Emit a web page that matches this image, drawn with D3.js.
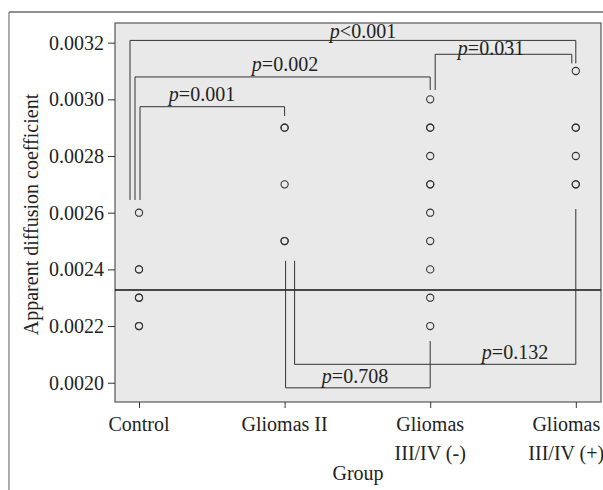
<!DOCTYPE html>
<html>
<head>
<meta charset="utf-8">
<script src="https://cdn.jsdelivr.net/npm/d3@7"></script>
<style>
  body { margin: 0; background: #fff; }
  svg { display: block; }
  text { font-family: "Liberation Serif", "Times New Roman", serif; fill: #222; }
</style>
</head>
<body>
<div id="chart"></div>
<script>
// groups along the x axis
const groups = ["Control", "Gliomas II", "Gliomas III/IV (-)", "Gliomas III/IV (+)"];
const groupLines = [["Control"], ["Gliomas II"], ["Gliomas", "III/IV (-)"], ["Gliomas", "III/IV (+)"]];

// ADC values per group (repeated values = overlapping points)
const control = [0.0026, 0.0024, 0.0024, 0.0023, 0.0023, 0.0022, 0.0022];
const gliomasII = [0.0029, 0.0029, 0.0027, 0.0025, 0.0025];
const gliomasNeg = [0.0030, 0.0029, 0.0029, 0.0028, 0.0027, 0.0027, 0.0026, 0.0025, 0.0024, 0.0023, 0.0022];
const gliomasPos = [0.0031, 0.0029, 0.0029, 0.0028, 0.0027, 0.0027];

const yTicks = [0.0020, 0.0022, 0.0024, 0.0026, 0.0028, 0.0030, 0.0032];
const refLine = 0.002327;

// pairwise comparisons
const pairFrom = [0, 3, 0, 0, 1, 1];
const pairTo = [3, 2, 2, 1, 3, 2];
const pValues = ["<0.001", "=0.031", "=0.002", "=0.001", "=0.132", "=0.708"];
// bracket levels in data units: bar, end at "from" group, end at "to" group
const barLevel = [0.003208, 0.003159, 0.003079, 0.002974, 0.002065, 0.001982];
const endFrom = [0.002645, 0.003127, 0.002645, 0.002645, 0.002430, 0.002430];
const endTo = [0.003127, 0.003033, 0.003033, 0.002941, 0.002613, 0.002147];

// layout tweaks for brackets / labels (pixels)
const offFrom = [-9, -4, -4, 1, 10, 1];
const offTo = [0, 5, 0, 0, 0, 0];
const labelCx = [363, 491, 285, 202, 515, 355];
const labelGap = [2, -0.5, 5.5, 5.5, 5, 5];

const width = 603, height = 490;
const margin = { top: 23, right: 2, bottom: 88, left: 115 };
const innerW = width - margin.left - margin.right;
const innerH = height - margin.top - margin.bottom;
const fs = "20px";

const svg = d3.select("#chart").append("svg")
  .attr("width", width)
  .attr("height", height);

// outer frame
svg.append("line").attr("x1", 9).attr("x2", width).attr("y1", 12).attr("y2", 12)
  .attr("stroke", "#222").attr("stroke-width", 1.2);
svg.append("line").attr("x1", 9).attr("x2", 9).attr("y1", 12).attr("y2", height)
  .attr("stroke", "#777").attr("stroke-width", 1.2);

const g = svg.append("g").attr("transform", `translate(${margin.left},${margin.top})`);

const x = d3.scalePoint().domain(groups).range([24, innerW - 25.2]);
const y = d3.scaleLinear().domain([0.001932, 0.0032694]).range([innerH, 0]);

g.append("rect")
  .attr("width", innerW).attr("height", innerH)
  .attr("fill", "#e9e9e9").attr("stroke", "#555").attr("stroke-width", 1.2);

// y axis
const yAxis = g.append("g")
  .call(d3.axisLeft(y).tickValues(yTicks).tickFormat(d3.format(".4f")).tickSize(7).tickPadding(4));
yAxis.select(".domain").remove();
yAxis.selectAll("line").attr("stroke", "#333");
yAxis.selectAll("text").style("font-size", fs).attr("fill", "#222")
  .style("font-family", "'Liberation Serif', serif");

// x axis
const xAxis = g.append("g").attr("transform", `translate(0,${innerH})`)
  .call(d3.axisBottom(x).tickSize(6).tickFormat(""));
xAxis.select(".domain").remove();
xAxis.selectAll("line").attr("stroke", "#333");

groups.forEach((grp, i) => {
  // last label is pulled left to fit the canvas, as in the original
  const cx = i === groups.length - 1 ? x(grp) - 9.5 : x(grp);
  const t = g.append("text")
    .attr("x", cx)
    .attr("y", innerH + 29)
    .attr("text-anchor", "middle")
    .style("font-size", fs);
  groupLines[i].forEach((ln, j) => {
    t.append("tspan").attr("x", cx).attr("dy", j === 0 ? 0 : 29).text(ln);
  });
});

// axis titles
g.append("text")
  .attr("x", innerW / 2).attr("y", innerH + 78)
  .attr("text-anchor", "middle").style("font-size", fs).text("Group");
svg.append("text")
  .attr("transform", `translate(38,${margin.top + innerH / 2 + 2}) rotate(-90)`)
  .attr("text-anchor", "middle").style("font-size", fs).text("Apparent diffusion coefficient");

// reference line
g.append("line")
  .attr("x1", 0).attr("x2", innerW)
  .attr("y1", y(refLine)).attr("y2", y(refLine))
  .attr("stroke", "#111").attr("stroke-width", 1.6);

// points
const series = [control, gliomasII, gliomasNeg, gliomasPos];
series.forEach((vals, i) => {
  g.selectAll(null)
    .data(vals)
    .enter()
    .append("circle")
    .attr("cx", x(groups[i]))
    .attr("cy", d => y(d))
    .attr("r", 3.6)
    .attr("fill", "none")
    .attr("stroke", "#333")
    .attr("stroke-width", 1.1);
});

// brackets
pValues.forEach((p, i) => {
  const xa = x(groups[pairFrom[i]]) + offFrom[i];
  const xb = x(groups[pairTo[i]]) + offTo[i];
  const path = d3.path();
  path.moveTo(xa, y(endFrom[i]));
  path.lineTo(xa, y(barLevel[i]));
  path.lineTo(xb, y(barLevel[i]));
  path.lineTo(xb, y(endTo[i]));
  g.append("path").attr("d", path.toString())
    .attr("fill", "none").attr("stroke", "#333").attr("stroke-width", 1);
  const t = g.append("text")
    .attr("x", labelCx[i] - margin.left)
    .attr("y", y(barLevel[i]) - labelGap[i])
    .attr("text-anchor", "middle")
    .style("font-size", fs);
  t.append("tspan").style("font-style", "italic").text("p");
  t.append("tspan").text(p);
});
</script>
</body>
</html>
